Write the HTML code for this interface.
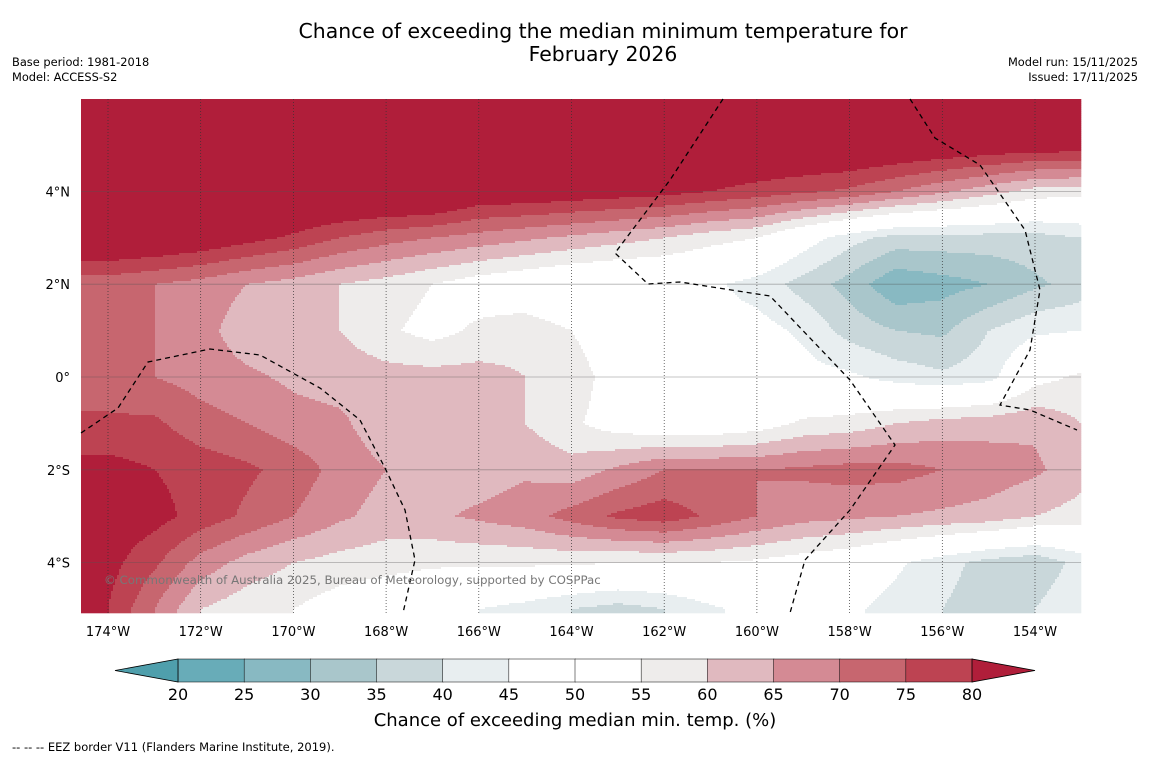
<!DOCTYPE html>
<html><head><meta charset="utf-8">
<style>
body{margin:0;background:#fff;width:1150px;height:758px;overflow:hidden;font-family:"DejaVu Sans","Liberation Sans",sans-serif;}
svg{position:absolute;left:0;top:0;font-family:"DejaVu Sans","Liberation Sans",sans-serif;}
</style></head>
<body>
<svg id="chart" width="1150" height="758">
<text x="603" y="38" text-anchor="middle" font-size="20.4" fill="#000">Chance of exceeding the median minimum temperature for</text>
<text x="603" y="61" text-anchor="middle" font-size="20.4" fill="#000">February 2026</text>
<text x="12" y="66" font-size="11.4">Base period: 1981-2018</text>
<text x="12" y="81" font-size="11.4">Model: ACCESS-S2</text>
<text x="1138" y="66" font-size="11.4" text-anchor="end">Model run: 15/11/2025</text>
<text x="1138" y="81" font-size="11.4" text-anchor="end">Issued: 17/11/2025</text>
<g id="heat"></g>
<g id="grid"></g>
<g id="eez"></g>
<text x="104" y="584" font-size="11.8" fill="#777">© Commonwealth of Australia 2025, Bureau of Meteorology, supported by COSPPac</text>
<g id="axes"></g>
<g id="cbar"></g>
<text x="575" y="726" text-anchor="middle" font-size="18">Chance of exceeding median min. temp. (%)</text>
<text x="12" y="751" font-size="11.5">--  --  -- EEZ border V11 (Flanders Marine Institute, 2019).</text>
</svg>
<script>
const lons=[-174,-173,-172,-171,-170,-169,-168,-167,-166,-165,-164,-163,-162,-161,-160,-159,-158,-157,-156,-155,-154,-153];
const lats=[6,5,4,3,2,1,0,-1,-2,-3,-4,-5];
const row6=[90,90,90,90,90,90,90,90,90,90,90,90,90,90,90,90,90,90,90,90,90,90];
const row5=[88,88,88,88,88,88,88,88,88,88,88,88,88,88,88,88,88,87,86,85,84,84];
const row4=[90,90,90,90,90,90,90,90,85,85,84,83,82,80,78,76,74,70,66,62,58,57];
const row3=[88,87,85,82,79,75,72,70,68,66,64,62,60,57,55,48,42,38,38,38,38,40];
const row2=[72,70,68,65,63,60,58,55,52,50,48,47,47,46,43,38,33,26,28,30,34,37];
const row1=[72,70,67,62,61,60,56,53,56,58,55,50,48,47,47,44,38,35,34,40,44,45];
const row0=[72,70,68,66,64,63,62,62,62,60,58,52,48,48,48,47,46,43,41,43,53,56];
const rowS1=[76,76,72,70,67,66,62,65,64,60,56,52,50,50,52,56,57,60,62,63,64,60];
const rowS2=[82,80,78,76,73,68,65,64,62,64,62,66,70,70,70,71,72,72,70,68,66,62];
const rowS3=[84,82,78,74,70,66,63,64,66,68,72,76,78,74,70,67,66,65,64,63,60,58];
const rowS4=[82,76,68,63,60,58,57,56,56,56,56,55,55,55,54,52,50,46,42,38,36,42];
const rowS5=[80,70,60,57,55,52,50,48,45,43,40,38,40,44,47,48,46,43,40,37,40,45];
const values=[row6,row5,row4,row3,row2,row1,row0,rowS1,rowS2,rowS3,rowS4,rowS5];
const levels=[20,25,30,35,40,45,50,55,60,65,70,75,80];
const colors=["#4f9fac","#68acb8","#88b9c2","#a9c6cb","#c9d7da","#e8eef0","#ffffff","#ffffff","#eeeceb","#e0b9bf","#d48a94","#c7666f","#bd4352","#b01e3a"];
const tickLons=[-174,-172,-170,-168,-166,-164,-162,-160,-158,-156,-154];
const tickLats=[4,2,0,-2,-4];
const latLabels=["4°N","2°N","0°","2°S","4°S"];
const NS="http://www.w3.org/2000/svg";
const X0=81,X1=1081,Y0=99,Y1=613;
const xOf=l=>108+(l+174)*46.35;
const yOf=a=>377-a*46.4;
const lonOf=x=>(x-108)/46.35-174;
const latOf=y=>(377-y)/46.4;
function val(lon,lat){
  let fi=Math.max(0,Math.min(lons.length-1.0001,lon-lons[0]));
  let fj=Math.max(0,Math.min(lats.length-1.0001,lats[0]-lat));
  let i=Math.floor(fi),j=Math.floor(fj),u=fi-i,v=fj-j;
  const a=values[j][i],b=values[j][i+1],c=values[j+1][i],d=values[j+1][i+1];
  return a*(1-u)*(1-v)+b*u*(1-v)+c*(1-u)*v+d*u*v;
}
function colorOf(v){let k=0;while(k<levels.length&&v>=levels[k])k++;return colors[k];}
const heat=document.getElementById('heat');
const S=2;
function addRun(x0,x1,y,c){
  const r=document.createElementNS(NS,'rect');
  r.setAttribute('x',x0);r.setAttribute('y',y);r.setAttribute('width',x1-x0+0.3);r.setAttribute('height',Math.min(S,Y1-y)+0.3);r.setAttribute('fill',c);
  
  
  heat.appendChild(r);
}
for(let y=Y0;y<Y1;y+=S){
  let runStart=X0,runCol=null;
  for(let x=X0;x<X1;x+=S){
    const c=colorOf(val(lonOf(x+S/2),latOf(y+S/2)));
    if(c!==runCol){
      if(runCol) addRun(runStart,x,y,runCol);
      runStart=x;runCol=c;
    }
  }
  if(runCol) addRun(runStart,X1,y,runCol);
}
const grid=document.getElementById('grid'),axes=document.getElementById('axes');
tickLons.forEach(l=>{
  const x=xOf(l);
  const ln=document.createElementNS(NS,'line');
  ln.setAttribute('x1',x);ln.setAttribute('x2',x);ln.setAttribute('y1',Y0);ln.setAttribute('y2',Y1);
  ln.setAttribute('stroke','#333');ln.setAttribute('stroke-width','0.7');ln.setAttribute('stroke-dasharray','1,2');
  
  
  grid.appendChild(ln);
  const t=document.createElementNS(NS,'text');
  t.setAttribute('x',x);t.setAttribute('y',636);t.setAttribute('text-anchor','middle');t.setAttribute('font-size','13');
  t.textContent=Math.abs(l)+'°W';
  
  
  axes.appendChild(t);
});
tickLats.forEach((a,i)=>{
  const y=yOf(a);
  const ln=document.createElementNS(NS,'line');
  ln.setAttribute('x1',X0);ln.setAttribute('x2',X1);ln.setAttribute('y1',y);ln.setAttribute('y2',y);
  ln.setAttribute('stroke','#555');ln.setAttribute('stroke-opacity','0.45');ln.setAttribute('stroke-width','0.8');
  
  
  grid.appendChild(ln);
  const t=document.createElementNS(NS,'text');
  t.setAttribute('x',70);t.setAttribute('y',y+5);t.setAttribute('text-anchor','end');t.setAttribute('font-size','13');
  t.textContent=latLabels[i];
  
  
  axes.appendChild(t);
});
const eezPaths=["M81,433 L118,408 L148,362 L210,349 L260,355 L320,388 L360,420 L385,468 L405,510 L415,560 L403,613",
"M723,99 L670,180 L615,253 L648,284 L680,282 L770,296 L850,380 L895,445 L850,510 L805,560 L790,613",
"M910,99 L935,138 L980,165 L1025,230 L1040,290 L1030,350 L1000,405 L1030,410 L1077,430"];
const eez=document.getElementById('eez');
eezPaths.forEach(d=>{const p=document.createElementNS(NS,'path');p.setAttribute('d',d);p.setAttribute('fill','none');p.setAttribute('stroke','#000');p.setAttribute('stroke-width','1.3');p.setAttribute('stroke-dasharray','5,4');
  
  
  eez.appendChild(p);});
const cb=document.getElementById('cbar');
const cx0=178,cw=(972-178)/12,cy=659,ch=23;
for(let k=0;k<12;k++){
  const r=document.createElementNS(NS,'rect');
  r.setAttribute('x',cx0+k*cw);r.setAttribute('y',cy);r.setAttribute('width',cw+0.5);r.setAttribute('height',ch);r.setAttribute('fill',colors[k+1]);
  r.setAttribute('stroke','#000');r.setAttribute('stroke-width','0.5');
  
  
  cb.appendChild(r);
}
const tl=document.createElementNS(NS,'polygon');tl.setAttribute('points',`115,${cy+ch/2} ${cx0},${cy} ${cx0},${cy+ch}`);tl.setAttribute('fill',colors[0]);tl.setAttribute('stroke','#000');tl.setAttribute('stroke-width','0.8');


cb.appendChild(tl);
const tr=document.createElementNS(NS,'polygon');tr.setAttribute('points',`1035,${cy+ch/2} 972,${cy} 972,${cy+ch}`);tr.setAttribute('fill',colors[13]);tr.setAttribute('stroke','#000');tr.setAttribute('stroke-width','0.8');


cb.appendChild(tr);
levels.forEach((lv,k)=>{const t=document.createElementNS(NS,'text');t.setAttribute('x',cx0+k*cw);t.setAttribute('y',700);t.setAttribute('text-anchor','middle');t.setAttribute('font-size','16');t.textContent=lv;
  
  
  cb.appendChild(t);});
</script>
</body></html>
